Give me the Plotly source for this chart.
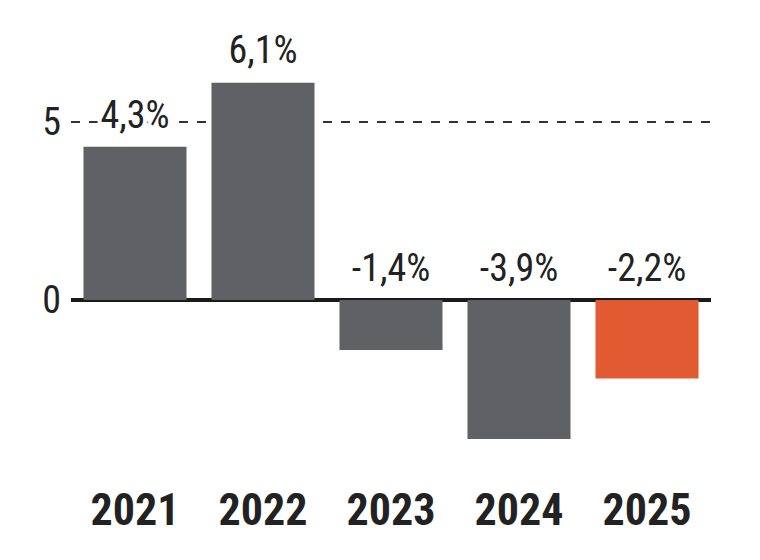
import plotly.graph_objects as go

years = ["2021", "2022", "2023", "2024", "2025"]
values = [4.3, 6.1, -1.4, -3.9, -2.2]
labels = ["4,3%", "6,1%", "-1,4%", "-3,9%", "-2,2%"]
colors = ["#606165", "#606165", "#606165", "#606165", "#e25a31"]
ytick_vals = [0, 5]
ytick_text = ["0", "5"]

FONT = "Roboto Condensed, DejaVu Sans Condensed, Liberation Sans Narrow, Roboto, sans-serif"
MASK = ", ".join(f"white {dx}px {dy}px 0px" for dx in (-4, -2, 0, 2, 4) for dy in (-3, 0, 3))

label_y = [max(v, 0) for v in values]

fig = go.Figure()
fig.add_trace(go.Bar(
    x=years, y=values, marker_color=colors, marker_line_width=0,
    hoverinfo="skip",
))
fig.add_trace(go.Scatter(
    x=years, y=label_y, mode="markers+text", text=labels,
    marker=dict(size=14, opacity=0),
    textposition="top center", hoverinfo="skip",
    textfont=dict(family=FONT, size=38, color="#222222", shadow=MASK),
    cliponaxis=False,
))

fig.update_layout(
    width=760, height=560,
    margin=dict(l=63, r=57, t=22, b=108),
    plot_bgcolor="white", paper_bgcolor="white",
    bargap=0.195, showlegend=False,
    xaxis=dict(
        type="category", range=[-0.5, 4.5], showgrid=False, zeroline=False,
        showline=False, ticks="",
        tickfont=dict(family=FONT, size=44, color="#222222", weight="bold"),
        ticklabelstandoff=20,
    ),
    yaxis=dict(
        range=[-4.49, 7.58], tickvals=ytick_vals, ticktext=ytick_text,
        showgrid=True, gridcolor="#333333", gridwidth=1.5, griddash="dash",
        zeroline=True, zerolinecolor="#1a1a1a", zerolinewidth=4,
        showline=False, ticks="",
        tickfont=dict(family=FONT, size=38, color="#222222"),
        ticklabelstandoff=9,
    ),
)

fig.write_html("out.html")
